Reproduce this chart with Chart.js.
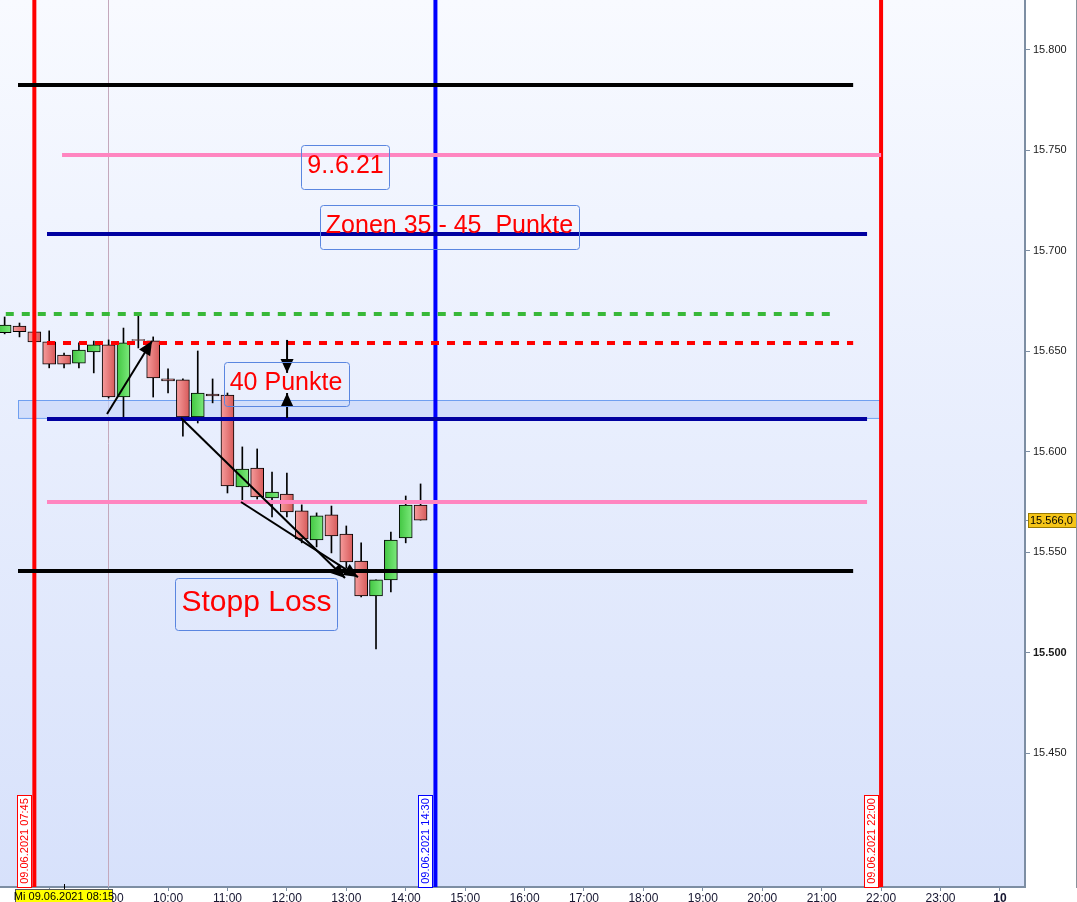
<!DOCTYPE html>
<html>
<head>
<meta charset="utf-8">
<script src="https://cdn.jsdelivr.net/npm/chart.js@4/dist/chart.umd.min.js"></script>
<style>
html, body { margin: 0; padding: 0; background: #fff; }
#wrap { position: relative; width: 1077px; height: 902px; }
</style>
</head>
<body>
<div id="wrap"><canvas id="dax"></canvas></div>
<script>
// 15-min candles 09.06.2021, time in hours
var candleTimes = [7.25, 7.5, 7.75, 8, 8.25, 8.5, 8.75, 9, 9.25, 9.5, 9.75, 10, 10.25, 10.5, 10.75,
    11, 11.25, 11.5, 11.75, 12, 12.25, 12.5, 12.75, 13, 13.25, 13.5, 13.75, 14, 14.25];
var openVals = [15659.2, 15662.5, 15659.6, 15654.6, 15648.1, 15644.1, 15649.6, 15653.1, 15627.2, 15655.8,
    15655.1, 15636.2, 15635.7, 15617.3, 15628.7, 15628.2, 15582.5, 15591.9, 15577.0, 15579.0,
    15570.6, 15556.1, 15568.6, 15559.1, 15545.7, 15528.3, 15536.3, 15557.1, 15573.5];
var highVals = [15667.0, 15664.0, 15660.6, 15660.1, 15649.1, 15654.1, 15655.0, 15655.6, 15661.5, 15667.5,
    15657.1, 15641.2, 15636.2, 15650.1, 15636.2, 15629.2, 15602.4, 15601.4, 15589.9, 15589.4,
    15573.6, 15569.6, 15573.0, 15563.1, 15554.7, 15536.3, 15560.1, 15578.0, 15584.0];
var lowVals = [15658.6, 15657.1, 15653.6, 15641.7, 15641.7, 15641.7, 15639.2, 15626.7, 15617.3, 15651.6,
    15627.2, 15629.2, 15607.8, 15614.3, 15624.3, 15579.5, 15576.0, 15576.5, 15567.6, 15567.6,
    15554.7, 15552.7, 15549.7, 15542.2, 15527.8, 15502.0, 15530.3, 15554.7, 15566.0];
var closeVals = [15663.0, 15659.7, 15654.6, 15643.6, 15643.6, 15650.6, 15653.1, 15627.2, 15654.1, 15655.3,
    15636.7, 15635.2, 15617.3, 15629.2, 15627.7, 15583.0, 15591.4, 15577.5, 15580.0, 15570.1,
    15556.6, 15568.1, 15558.1, 15545.2, 15528.3, 15536.3, 15556.1, 15573.5, 15566.0];
var lastPrice = 15566.0;

// horizontal levels
var levelValues = [15782.4, 15747.5, 15708.3, 15668.5, 15654.1, 15616.3, 15575.0, 15540.7];
var levelStart = [7.475, 8.216, 7.963, 7.0, 7.963, 7.963, 7.963, 7.475];
var levelEnd = [21.53, 22.0, 21.764, 21.26, 21.53, 21.764, 21.764, 21.53];
var levelColors = ["#000000", "#ff85c0", "#0000a0", "#38b838", "#ff0000", "#0000a0", "#ff85c0", "#000000"];
var levelDashed = [false, false, false, true, true, false, false, false];

// zone rectangle
var zoneTimes = [7.475, 22.0];
var zoneValues = [15616.8, 15625.7];

// vertical time markers
var markerTimes = [7.75, 14.5, 22.0];
var markerLabels = ["09.06.2021 07:45", "09.06.2021 14:30", "09.06.2021 22:00"];
var markerColors = ["#ff0000", "#0000ff", "#ff0000"];

// arrows [time, value] -> [time, value]
var arrowFrom = [[8.973, 15618.8], [10.218, 15616.8], [11.228, 15575.0], [12.003, 15655.6], [12.003, 15616.8]];
var arrowTo = [[9.73, 15655.1], [12.978, 15537.2], [13.197, 15537.7], [12.003, 15639.2], [12.003, 15629.2]];

// text notes
var noteTexts = ["9..6.21", "Zonen 35 - 45  Punkte", "40 Punkte", "Stopp Loss"];
var noteTimes = [12.987, 14.737, 11.985, 11.489];
var noteValues = [15741.6, 15711.5, 15633.7, 15524.3];
var noteSizes = [25, 25, 25, 30];

var hourTicks = [8, 9, 10, 11, 12, 13, 14, 15, 16, 17, 18, 19, 20, 21, 22, 23, 24];
var priceTicks = [15450, 15500, 15550, 15600, 15650, 15700, 15750, 15800];

var xMin = 7.172, xMax = 24.422;
var yMin = 15383.6, yMax = 15824.6;
var FONT = "'Liberation Sans', Arial, sans-serif";

function pad2(n) { return (n < 10 ? "0" : "") + n; }
function fmtPrice(v) {
    var t = Math.floor(v / 1000), r = Math.round(v - t * 1000);
    return t + "." + ("00" + r).slice(-3);
}

function candleFill(ctx) {
    var i = ctx.dataIndex;
    var up = closeVals[i] >= openVals[i];
    var chart = ctx.chart;
    if (!chart.scales || !chart.scales.x) return up ? "#5cd65c" : "#e87474";
    var x = chart.scales.x.getPixelForValue(candleTimes[i]);
    var g = chart.ctx.createLinearGradient(x - 6, 0, x + 6, 0);
    if (up) { g.addColorStop(0, "#44c844"); g.addColorStop(1, "#7ae87a"); }
    else { g.addColorStop(0, "#f59a9a"); g.addColorStop(1, "#d85c5c"); }
    return g;
}

var datasets = [];
levelValues.forEach(function (v, i) {
    datasets.push({
        type: "line",
        data: [{ x: levelStart[i], y: v }, { x: levelEnd[i], y: v }],
        borderColor: levelColors[i],
        borderWidth: 4,
        borderDash: levelDashed[i] ? [8, 8] : [],
        pointRadius: 0,
        order: 1,
    });
});
markerTimes.forEach(function (t, i) {
    datasets.push({
        type: "line",
        data: [{ x: t, y: yMin }, { x: t, y: yMax }],
        borderColor: markerColors[i],
        borderWidth: 4,
        pointRadius: 0,
        order: 1,
    });
});
datasets.push({
    type: "bar",
    data: candleTimes.map(function (t, i) {
        return { x: t, y: [openVals[i], closeVals[i]] };
    }),
    backgroundColor: candleFill,
    borderColor: "#000000",
    borderWidth: 1,
    borderSkipped: false,
    barThickness: 13,
    grouped: false,
    order: 2,
});
datasets.push({
    type: "bar",
    data: candleTimes.map(function (t, i) {
        return { x: t, y: [lowVals[i], highVals[i]] };
    }),
    backgroundColor: "#000000",
    barThickness: 1,
    grouped: false,
    order: 3,
});

function arrowHead(c, x0, y0, x1, y1, len, half) {
    var a = Math.atan2(y1 - y0, x1 - x0);
    c.beginPath();
    c.moveTo(x1, y1);
    c.lineTo(x1 - len * Math.cos(a) + half * Math.sin(a), y1 - len * Math.sin(a) - half * Math.cos(a));
    c.lineTo(x1 - len * Math.cos(a) - half * Math.sin(a), y1 - len * Math.sin(a) + half * Math.cos(a));
    c.closePath();
    c.fill();
}

function roundRect(c, x, y, w, h, r) {
    c.beginPath();
    c.moveTo(x + r, y);
    c.lineTo(x + w - r, y);
    c.quadraticCurveTo(x + w, y, x + w, y + r);
    c.lineTo(x + w, y + h - r);
    c.quadraticCurveTo(x + w, y + h, x + w - r, y + h);
    c.lineTo(x + r, y + h);
    c.quadraticCurveTo(x, y + h, x, y + h - r);
    c.lineTo(x, y + r);
    c.quadraticCurveTo(x, y, x + r, y);
    c.closePath();
}

var decor = {
    id: "decor",
    beforeDraw: function (chart) {
        var a = chart.chartArea, c = chart.ctx;
        var g = c.createLinearGradient(0, a.top, 0, a.bottom);
        g.addColorStop(0, "#f8faff");
        g.addColorStop(1, "#d7e1fb");
        c.fillStyle = g;
        c.fillRect(a.left, a.top, a.right - a.left, a.bottom - a.top);
    },
    beforeDatasetsDraw: function (chart) {
        var a = chart.chartArea, c = chart.ctx, xs = chart.scales.x, ys = chart.scales.y;
        c.save();
        // 09:00 separator
        var sx = Math.round(xs.getPixelForValue(9)) - 0.5;
        c.strokeStyle = "#c4a8bc";
        c.lineWidth = 1;
        c.beginPath(); c.moveTo(sx, a.top); c.lineTo(sx, a.bottom); c.stroke();
        // zone
        var zx0 = xs.getPixelForValue(zoneTimes[0]), zx1 = xs.getPixelForValue(zoneTimes[1]);
        var zy0 = ys.getPixelForValue(zoneValues[1]), zy1 = ys.getPixelForValue(zoneValues[0]);
        c.fillStyle = "rgba(200,215,250,0.7)";
        c.fillRect(zx0, zy0, zx1 - zx0, zy1 - zy0);
        c.strokeStyle = "#6f9ff0";
        c.strokeRect(Math.round(zx0) + 0.5, Math.round(zy0) + 0.5, zx1 - zx0, zy1 - zy0);
        c.restore();
    },
    afterDatasetsDraw: function (chart) {
        var a = chart.chartArea, c = chart.ctx, xs = chart.scales.x, ys = chart.scales.y;
        c.save();
        // arrows
        c.strokeStyle = "#000";
        c.fillStyle = "#000";
        c.lineWidth = 2;
        arrowFrom.forEach(function (p, i) {
            var x0 = xs.getPixelForValue(p[0]), y0 = ys.getPixelForValue(p[1]);
            var x1 = xs.getPixelForValue(arrowTo[i][0]), y1 = ys.getPixelForValue(arrowTo[i][1]);
            c.beginPath(); c.moveTo(x0, y0); c.lineTo(x1, y1); c.stroke();
            arrowHead(c, x0, y0, x1, y1, 14, 6.5);
        });
        // notes
        noteTexts.forEach(function (t, i) {
            var cx = xs.getPixelForValue(noteTimes[i]), cy = ys.getPixelForValue(noteValues[i]);
            c.font = noteSizes[i] + "px " + FONT;
            var w = c.measureText(t).width + 12, h = Math.round(noteSizes[i] * 1.74);
            c.strokeStyle = "#5a86e0";
            c.lineWidth = 1;
            roundRect(c, Math.round(cx - w / 2) + 0.5, Math.round(cy - h / 2) + 0.5, Math.round(w), h, 3);
            c.stroke();
            c.fillStyle = "#ff0000";
            c.textAlign = "center";
            c.textBaseline = "middle";
            c.fillText(t, cx, cy - 1);
        });
        // marker date labels
        markerTimes.forEach(function (t, i) {
            var x = Math.round(xs.getPixelForValue(t));
            c.fillStyle = "#ffffff";
            c.fillRect(x - 17, a.bottom - 92, 14, 92);
            c.strokeStyle = markerColors[i];
            c.lineWidth = 1;
            c.strokeRect(x - 16.5, a.bottom - 91.5, 14, 92);
            c.save();
            c.translate(x - 9.5, a.bottom - 46);
            c.rotate(-Math.PI / 2);
            c.fillStyle = markerColors[i];
            c.font = "11px " + FONT;
            c.textAlign = "center";
            c.textBaseline = "middle";
            c.fillText(markerLabels[i], 0, 0);
            c.restore();
        });
        c.restore();
    },
    afterDraw: function (chart) {
        var a = chart.chartArea, c = chart.ctx, xs = chart.scales.x, ys = chart.scales.y;
        c.save();
        // last price label
        var py = Math.round(ys.getPixelForValue(lastPrice));
        c.strokeStyle = "#7d8ea3";
        c.lineWidth = 1;
        c.beginPath(); c.moveTo(a.right, py + 0.5); c.lineTo(a.right + 4, py + 0.5); c.stroke();
        c.fillStyle = "#f5c518";
        c.fillRect(a.right + 3, py - 7, 48, 14);
        c.strokeStyle = "#9a7a00";
        c.strokeRect(a.right + 3.5, py - 6.5, 48, 14);
        c.fillStyle = "#000";
        c.font = "11px " + FONT;
        c.textAlign = "left";
        c.textBaseline = "middle";
        c.fillText(fmtPrice(lastPrice) + ",0", a.right + 5, py + 0.5);
        // crosshair time label
        var cx = Math.round(xs.getPixelForValue(8.25));
        c.strokeStyle = "#000";
        c.beginPath(); c.moveTo(cx + 0.5, a.bottom - 3); c.lineTo(cx + 0.5, a.bottom + 3); c.stroke();
        c.fillStyle = "#ffff00";
        c.fillRect(cx - 49, a.bottom + 2, 97, 14);
        c.strokeStyle = "#555";
        c.strokeRect(cx - 48.5, a.bottom + 2.5, 97, 14);
        c.fillStyle = "#000";
        c.font = "11px " + FONT;
        c.textAlign = "center";
        c.fillText("Mi 09.06.2021 08:15", cx, a.bottom + 10);
        // right frame
        c.strokeStyle = "#8a929c";
        c.beginPath(); c.moveTo(1076.5, 0); c.lineTo(1076.5, a.bottom + 1); c.stroke();
        c.restore();
    },
};

new Chart(document.getElementById("dax").getContext("2d"), {
    type: "bar",
    data: { datasets: datasets },
    options: {
        responsive: true,
        maintainAspectRatio: false,
        animation: false,
        layout: { padding: 0 },
        plugins: {
            legend: false,
            tooltip: { enabled: false },
        },
        scales: {
            x: {
                type: "linear",
                min: xMin,
                max: xMax,
                offset: false,
                grid: { drawOnChartArea: false, offset: false, color: "#7d8ea3", tickLength: 4 },
                border: { color: "#7d8ea3", width: 2 },
                afterBuildTicks: function (s) {
                    s.ticks = hourTicks.map(function (v) { return { value: v }; });
                },
                afterFit: function (s) {
                    s.height = 15;
                    s.paddingLeft = 0;
                    s.paddingRight = 0;
                },
                ticks: {
                    autoSkip: false,
                    maxRotation: 0,
                    padding: 0,
                    color: "#151530",
                    font: function (ctx) {
                        return { family: FONT, size: 12, weight: ctx.tick && ctx.tick.value === 24 ? "bold" : "normal" };
                    },
                    callback: function (v) { return v === 24 ? "10" : pad2(v) + ":00"; },
                },
            },
            y: {
                position: "right",
                min: yMin,
                max: yMax,
                grid: { drawOnChartArea: false, color: "#7d8ea3", tickLength: 5 },
                border: { color: "#7d8ea3", width: 2 },
                afterBuildTicks: function (s) {
                    s.ticks = priceTicks.map(function (v) { return { value: v }; });
                },
                afterFit: function (s) {
                    s.width = 52;
                    s.paddingTop = 0;
                    s.paddingBottom = 0;
                },
                ticks: {
                    padding: 3,
                    color: "#1a1a1a",
                    font: function (ctx) {
                        return { family: FONT, size: 11, weight: ctx.tick && ctx.tick.value === 15500 ? "bold" : "normal" };
                    },
                    callback: function (v) { return fmtPrice(v); },
                },
            },
        },
    },
    plugins: [decor],
});
</script>
</body>
</html>
